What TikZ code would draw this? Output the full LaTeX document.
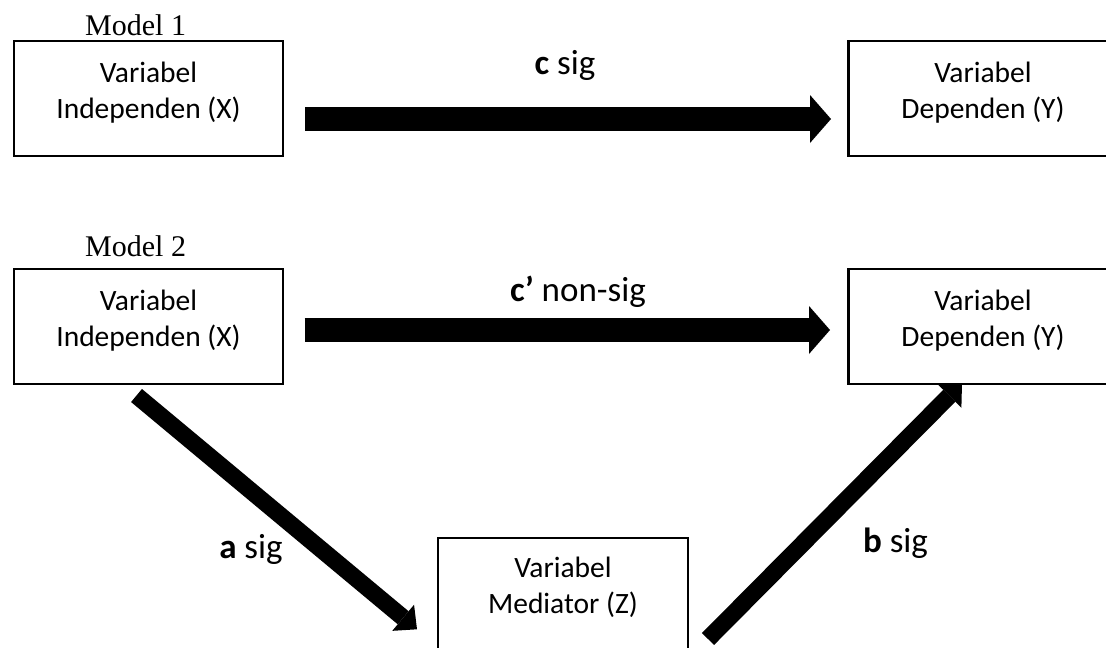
\documentclass[tikz,border=0pt]{standalone}
\usepackage{fontspec}
\setmainfont{Carlito}
\newfontfamily\modelfont{Liberation Serif}
\usetikzlibrary{arrows.meta}
\pgfdeclarelayer{bg}
\pgfsetlayers{bg,main}
\begin{document}
\begin{tikzpicture}[x=1pt,y=-1pt,
  box/.style={draw, line width=2.2pt, fill=white, inner sep=0pt, outer sep=0pt, align=center, anchor=north, font=\fontsize{29.5}{36}\selectfont},
  lab/.style={anchor=base, inner sep=0pt, font=\fontsize{35}{42}\selectfont},
  mlab/.style={anchor=base west, inner sep=0pt, font=\modelfont\fontsize{30}{36}\selectfont},
  bigarrow/.style={line width=24pt, -{Triangle[width=48pt,length=21pt,line width=0pt]}},
  diagarrow/.style={line width=17pt, -{Triangle[width=34pt,length=18pt,line width=0pt]}}]
\clip (0,0) rectangle (1106,648);
% boxes
\node[box, minimum width=269pt] (x1) at (148.5,41) {\rule{0pt}{41pt}Variabel\\Independen (X)\rule[-38pt]{0pt}{38pt}};
\node[box, minimum width=269pt] (y1) at (983,41) {\rule{0pt}{41pt}Variabel\\Dependen (Y)\rule[-38pt]{0pt}{38pt}};
\node[box, minimum width=269pt] (x2) at (148.5,269) {\rule{0pt}{41pt}Variabel\\Independen (X)\rule[-38pt]{0pt}{38pt}};
\node[box, minimum width=269pt] (y2) at (983,269) {\rule{0pt}{41pt}Variabel\\Dependen (Y)\rule[-38pt]{0pt}{38pt}};
\node[box, minimum width=250pt] (z) at (563,538) {\rule{0pt}{39pt}Variabel\\Mediator (Z)\rule[-38pt]{0pt}{38pt}};
% labels
\node[mlab] (m1) at (85,35) {Model 1};
\node[mlab] (m2) at (85,256) {Model 2};
\node[lab] (lc) at (565,74.5) {\textbf{c} sig};
\node[lab] (lc2) at (578,301) {\textbf{c’} non-sig};
\node[lab] (la) at (251,558) {\textbf{a} sig};
\node[lab] (lb) at (895.5,552) {\textbf{b} sig};
% arrows
\begin{pgfonlayer}{bg}
\fill[white] (0,0) rectangle (1106,648);
\draw[bigarrow, shorten <=22pt, shorten >=17.5pt] ([yshift=-20.5pt]x1.east) -- ([yshift=-20.5pt]y1.west);
\draw[bigarrow, shorten <=21.6pt, shorten >=18.5pt] ([yshift=-3.5pt]x2.east) -- ([yshift=-3.5pt]y2.west);
\draw[diagarrow] ([shift={(-12,11.5)}]x2.south) -- ([shift={(-21,91.3)}]z.north west);
\draw[diagarrow] ([shift={(20,101)}]z.north east) -- ([shift={(113.5,-1)}]y2.south west);
\end{pgfonlayer}
\end{tikzpicture}
\end{document}
